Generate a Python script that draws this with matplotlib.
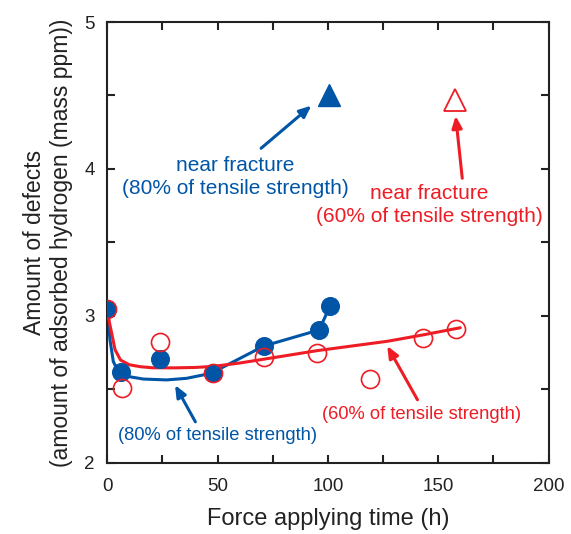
import matplotlib
matplotlib.use("Agg")
import matplotlib.pyplot as plt
from matplotlib.ticker import MultipleLocator

plt.rcParams['font.family'] = ['Liberation Sans', 'DejaVu Sans']

BLUE = '#0055a6'
RED = '#ee1c25'

# measured data (force applying time in h, amount of defects in mass ppm)
blue_t = [0, 6, 24, 48, 71, 96, 101]
blue_v = [3.05, 2.62, 2.705, 2.61, 2.796, 2.905, 3.068]
red_t = [0, 6.5, 24, 48, 71, 95, 119, 143, 158]
red_v = [3.05, 2.508, 2.821, 2.61, 2.72, 2.746, 2.569, 2.848, 2.912]

# near fracture points
blue_frac_t, blue_frac_v = [100.6], [4.50]
red_frac_t, red_frac_v = [157.6], [4.47]

# trend curves
blue_fit_t = [0, 1.2, 2.7, 5, 8.8, 16.3, 26.9, 36, 47, 71, 96, 101]
blue_fit_v = [3.05, 2.837, 2.69, 2.62, 2.59, 2.571, 2.565, 2.576, 2.61, 2.796, 2.905, 3.068]
red_fit_t = [0, 1, 2, 3.5, 6, 10, 15, 20, 30, 40, 48, 60, 78, 95, 127, 143, 160]
red_fit_v = [3.05, 2.95, 2.88, 2.77, 2.70, 2.668, 2.655, 2.648, 2.647, 2.650, 2.657,
             2.68, 2.723, 2.764, 2.828, 2.871, 2.92]

fig = plt.figure(figsize=(5.71, 5.34), dpi=100)
ax = fig.add_axes([0.188, 0.133, 0.7726, 0.8258])

ax.plot(blue_fit_t, blue_fit_v, color=BLUE, lw=2.2, zorder=2, solid_capstyle='round')
ax.plot(red_fit_t, red_fit_v, color=RED, lw=2.2, zorder=3, solid_capstyle='round')
ax.plot(blue_t, blue_v, 'o', color=BLUE, ms=12.7, mec=BLUE, zorder=4)
ax.plot(red_t, red_v, 'o', mfc='none', mec=RED, ms=13, mew=1.2, zorder=5)
ax.plot(blue_frac_t, blue_frac_v, '^', color=BLUE, ms=16, zorder=4)
ax.plot(red_frac_t, red_frac_v, '^', mfc='white', mec=RED, ms=16, mew=1.3, zorder=4)

ax.set_xlim(0, 200)
ax.set_ylim(2, 5)
ax.xaxis.set_major_locator(MultipleLocator(50))
ax.xaxis.set_minor_locator(MultipleLocator(25))
ax.yaxis.set_major_locator(MultipleLocator(1))
ax.yaxis.set_minor_locator(MultipleLocator(0.5))
ax.tick_params(which='both', direction='in', top=True, right=True, length=6, width=1.5,
               labelsize=13.5, colors='#222222')
ax.tick_params(axis='x', pad=11)
ax.tick_params(axis='y', pad=9)
for s in ax.spines.values():
    s.set_linewidth(1.5)
    s.set_color('#222222')

ax.set_xlabel('Force applying time (h)', fontsize=17, color='#222222', labelpad=9)
ax.set_ylabel('Amount of defects\n(amount of adsorbed hydrogen (mass ppm))', fontsize=16.5,
              color='#222222', labelpad=8, linespacing=1.25)

arrow_kw = dict(arrowstyle='-|>,head_length=0.7,head_width=0.3', lw=2.2,
                shrinkA=0, shrinkB=0)
ax.annotate('', xy=(92.5, 4.431), xytext=(69.7, 4.141),
            arrowprops=dict(color=BLUE, **arrow_kw))
ax.annotate('', xy=(157.9, 4.361), xytext=(160.9, 3.937),
            arrowprops=dict(color=RED, **arrow_kw))
ax.annotate('', xy=(30.7, 2.53), xytext=(39.9, 2.28),
            arrowprops=dict(color=BLUE, **arrow_kw))
ax.annotate('', xy=(126.9, 2.796), xytext=(140.6, 2.43),
            arrowprops=dict(color=RED, **arrow_kw))

ax.text(58, 3.945, 'near fracture\n(80% of tensile strength)', color=BLUE, fontsize=15,
        ha='center', va='center', linespacing=1.25)
ax.text(145.8, 3.753, 'near fracture\n(60% of tensile strength)', color=RED, fontsize=15,
        ha='center', va='center', linespacing=1.25)
ax.text(49.8, 2.186, '(80% of tensile strength)', color=BLUE, fontsize=13.2,
        ha='center', va='center')
ax.text(142.3, 2.327, '(60% of tensile strength)', color=RED, fontsize=13.2,
        ha='center', va='center')

fig.savefig('out.png', dpi=100)
